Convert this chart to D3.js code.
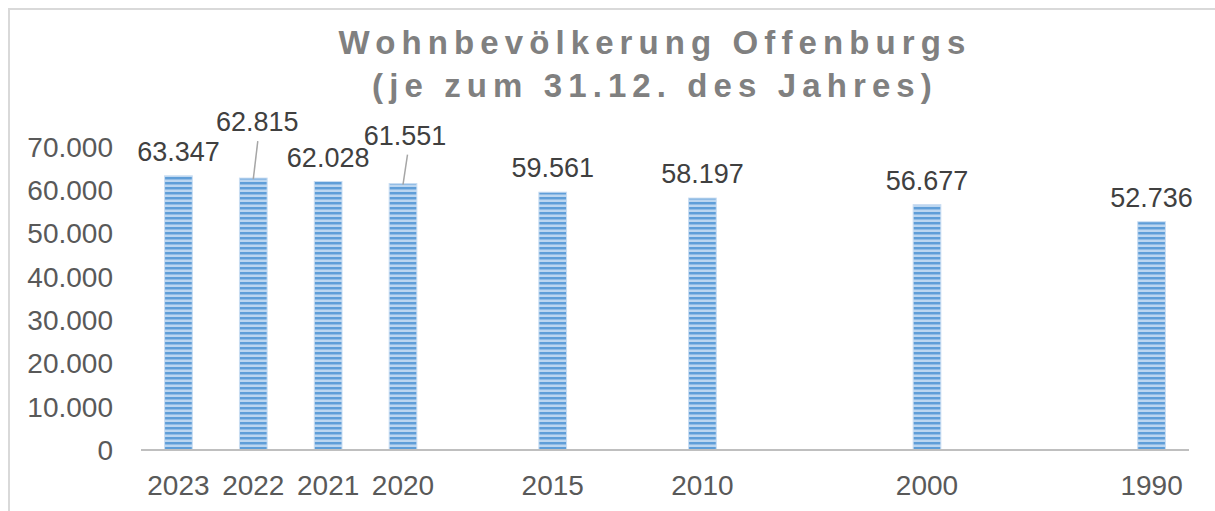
<!DOCTYPE html>
<html>
<head>
<meta charset="utf-8">
<script src="https://cdn.jsdelivr.net/npm/d3@7"></script>
<style>
  body { margin: 0; background: #fff; }
  text { font-family: "Liberation Sans", Arial, sans-serif; }
</style>
</head>
<body>
<svg width="1215" height="511"></svg>
<script>
// category slots incl. empty gaps so the years sit like in the original
var slots = ["2023", "2022", "2021", "2020", "", "2015", "", "2010", "", "", "2000", "", "", "1990"];
var years = ["2023", "2022", "2021", "2020", "2015", "2010", "2000", "1990"];
var population = [63347, 62815, 62028, 61551, 59561, 58197, 56677, 52736];
var yTicks = [0, 10000, 20000, 30000, 40000, 50000, 60000, 70000];
var titleLines = ["Wohnbevölkerung Offenburgs", "(je zum 31.12. des Jahres)"];

var svg = d3.select("svg");
var margin = {top: 147, right: 26, bottom: 61, left: 141};
var width = 1215 - margin.left - margin.right;
var height = 511 - margin.top - margin.bottom;

var x = d3.scaleBand().domain(slots.map(function(d, i) { return i; })).range([0, width]).paddingInner(0.63).paddingOuter(0.315);
var y = d3.scaleLinear().domain([0, 70000]).range([height, 0]);
var fmt = function(v) { return d3.format(",")(v).replace(/,/g, "."); };

// striped fill for the bars
var defs = svg.append("defs");
var pat = defs.append("pattern").attr("id", "stripes").attr("patternUnits", "userSpaceOnUse")
    .attr("width", 8).attr("height", 5);
pat.append("rect").attr("width", 8).attr("height", 5).attr("fill", "#bcd6f0");
pat.append("rect").attr("y", 0).attr("width", 8).attr("height", 2).attr("fill", "#5f9ed8");
pat.append("rect").attr("y", 2).attr("width", 8).attr("height", 1).attr("fill", "#90bbe5");

// outer frame
svg.append("rect").attr("x", 9).attr("y", 9).attr("width", 1220).attr("height", 520)
    .attr("fill", "none").attr("stroke", "#d9d9d9").attr("stroke-width", 2);

var title = svg.append("text").attr("text-anchor", "middle")
    .style("font-size", "33px").style("font-weight", "bold").style("fill", "#808080")
    .style("letter-spacing", "6.1px");
title.selectAll("tspan").data(titleLines).enter().append("tspan")
    .attr("x", 655).attr("y", function(d, i) { return 54 + i * 43; })
    .text(function(d) { return d; });

var g = svg.append("g").attr("transform", "translate(" + margin.left + "," + margin.top + ")");

// y axis labels (no line)
g.selectAll(".ytick").data(yTicks).enter().append("text")
    .attr("class", "ytick")
    .attr("x", -28).attr("y", function(d) { return y(d); })
    .attr("dy", "0.35em").attr("text-anchor", "end")
    .style("font-size", "28px").style("fill", "#595959")
    .text(fmt);

var xIndex = function(yr) { return slots.indexOf(yr); };

g.selectAll(".bar").data(years).enter().append("rect")
    .attr("class", "bar")
    .attr("x", function(d) { return x(xIndex(d)); })
    .attr("width", x.bandwidth())
    .attr("y", function(d, i) { return y(population[i]); })
    .attr("height", function(d, i) { return height - y(population[i]); })
    .attr("fill", "url(#stripes)")
    .attr("stroke", "#c9ddf2").attr("stroke-width", 1);

// baseline
g.append("line").attr("x1", 0).attr("x2", width).attr("y1", height).attr("y2", height)
    .attr("stroke", "#bfbfbf").attr("stroke-width", 2);

// x labels
g.selectAll(".xlab").data(years).enter().append("text")
    .attr("class", "xlab")
    .attr("x", function(d) { return x(xIndex(d)) + x.bandwidth() / 2; })
    .attr("y", height + 45)
    .attr("text-anchor", "middle")
    .style("font-size", "28px").style("fill", "#595959")
    .text(function(d) { return d; });

// value labels; 2022 and 2020 are pulled up with leader lines
var lift = {"2022": [4, 32], "2020": [2, 24]};
var labelY = function(d) { return y(population[years.indexOf(d)]) - 15 - (lift[d] ? lift[d][1] : 0); };
g.selectAll(".val").data(years).enter().append("text")
    .attr("class", "val")
    .attr("x", function(d) { return x(xIndex(d)) + x.bandwidth() / 2 + (lift[d] ? lift[d][0] : 0); })
    .attr("y", labelY)
    .attr("text-anchor", "middle")
    .style("font-size", "27px").style("fill", "#404040")
    .text(function(d, i) { return fmt(population[i]); });

g.selectAll(".leader").data(years.filter(function(d) { return lift[d]; })).enter().append("line")
    .attr("class", "leader")
    .attr("x1", function(d) { return x(xIndex(d)) + x.bandwidth() / 2 + 4.5; })
    .attr("y1", function(d) { return labelY(d) + 10; })
    .attr("x2", function(d) { return x(xIndex(d)) + x.bandwidth() / 2; })
    .attr("y2", function(d) { return y(population[years.indexOf(d)]) + 1; })
    .attr("stroke", "#a6a6a6").attr("stroke-width", 1.5);
</script>
</body>
</html>
